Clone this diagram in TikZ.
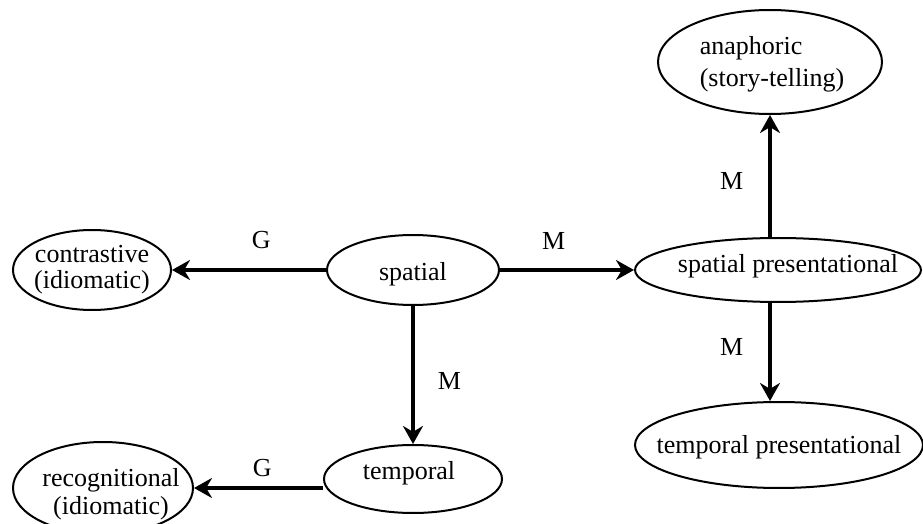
\documentclass[tikz,border=0pt]{standalone}
\usepackage{fontspec}
\setmainfont{Liberation Serif}
\usepackage{tikz}
\usetikzlibrary{arrows.meta,positioning,shapes.geometric}

\begin{document}
\begin{tikzpicture}[
    x=0.5pt, y=-0.5pt,
    oval/.style={draw, ellipse, line width=1pt, inner sep=0pt},
    txt/.style={align=center, font=\fontsize{13}{13}\selectfont},
    arrow/.style={-{Stealth[length=9pt,width=10pt]}, line width=2.2pt},
    lbl/.style={font=\fontsize{13}{13}\selectfont}
]
\useasboundingbox (0,0) rectangle (923,524);
\node[oval, minimum width=79pt, minimum height=40pt, label={[txt]center:contrastive\\(idiomatic)}] (contrastive) at (92,270) {};
\node[oval, minimum width=86pt, minimum height=35pt, label={[txt, yshift=-2pt]center:spatial}] (spatial) at (413,270) {};
\node[oval, minimum width=143pt, minimum height=32pt, label={[txt, xshift=5pt, yshift=2pt]center:spatial presentational}] (sppres) at (778,270) {};
\node[oval, minimum width=112pt, minimum height=52pt, label={[txt, align=left, font=\fontsize{13}{16}\selectfont, xshift=1pt, yshift=-1pt]center:anaphoric\\(story-telling)}] (anaphoric) at (770,62) {};
\node[oval, minimum width=144pt, minimum height=43pt, label={[txt, yshift=-1pt]center:temporal presentational}] (tempres) at (779,445) {};
\node[oval, minimum width=89pt, minimum height=34pt, label={[txt, xshift=-2pt, yshift=3pt]center:temporal}] (temporal) at (413,479) {};
\node[oval, minimum width=90pt, minimum height=46pt, label={[txt, font=\fontsize{13}{14}\selectfont, xshift=4pt, yshift=-3pt]center:recognitional\\(idiomatic)}] (recognitional) at (103,488) {};

\draw[arrow] (spatial) -- (contrastive) node[lbl, pos=0.42, above=6pt] {G};
\draw[arrow] (spatial) -- (sppres) node[lbl, pos=0.4, above=6pt] {M};
\draw[arrow] (spatial) -- (temporal) node[lbl, pos=0.54, right=8pt] {M};
\draw[arrow] (anaphoric.south |- sppres.north) -- (anaphoric.south) node[lbl, pos=0.46, left=9pt] {M};
\draw[arrow] (anaphoric.south |- sppres.south) -- (anaphoric.south |- tempres.north) node[lbl, pos=0.45, left=9pt] {M};
\draw[arrow] (temporal.west |- recognitional.east) -- (recognitional.east) node[lbl, pos=0.47, above=1pt] {G};
\end{tikzpicture}
\end{document}
